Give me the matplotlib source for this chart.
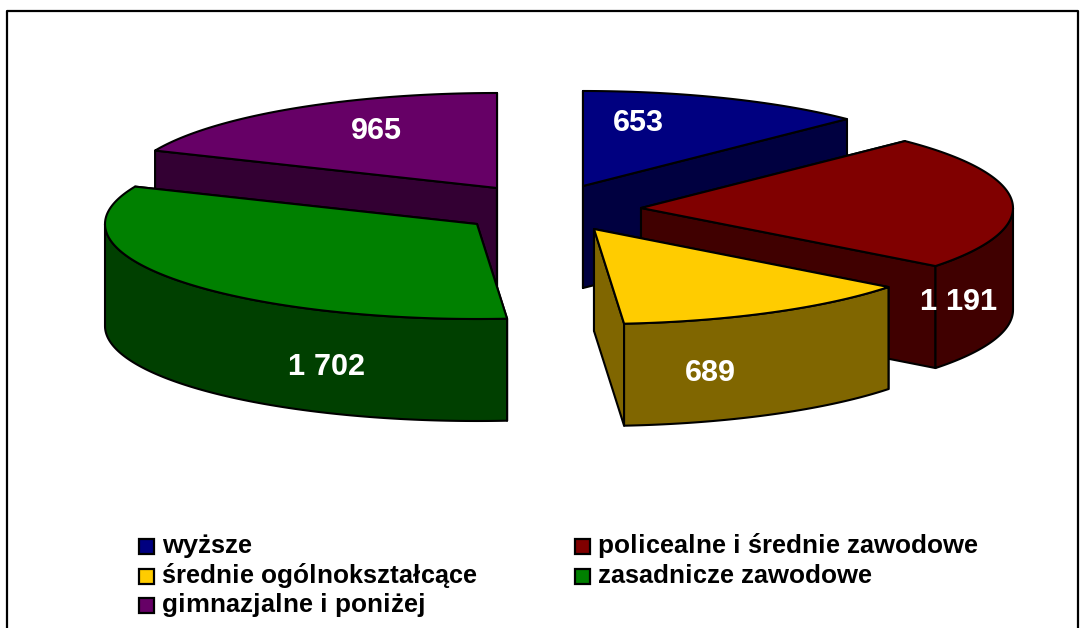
import numpy as np
import matplotlib
matplotlib.use("Agg")
import matplotlib.pyplot as plt
from matplotlib.patches import Polygon, Rectangle

plt.rcParams['font.family'] = ['Liberation Sans', 'DejaVu Sans']
plt.rcParams['text.hinting'] = 'native'
plt.rcParams['text.hinting_factor'] = 1

categories = ["wyższe", "policealne i średnie zawodowe", "średnie ogólnokształcące",
              "zasadnicze zawodowe", "gimnazjalne i poniżej"]
values = [653, 1191, 689, 1702, 965]
value_labels = ["653", "1 191", "689", "1 702", "965"]
top_colors = ["#000080", "#800000", "#FFCC00", "#008000", "#660066"]
side_colors = ["#000040", "#400000", "#806600", "#004000", "#330033"]

# layout, in pixels
center = (541, 208)
explode_x = [42, 100, 53, -64, -44]
explode_y = [-22, 0, 21, 16, -20]
rx, ry = 372, 95
depth = 102
label_x = [638, 958, 710, 326, 376]
label_base = [131, 310, 381, 375, 139]
legend_x = [139, 575, 139, 575, 139]
legend_y = [546, 546, 576, 576, 605]

fig = plt.figure(figsize=(10.85, 6.28), dpi=100)
ax = fig.add_axes([0, 0, 1, 1])
ax.set_xlim(0, 1085)
ax.set_ylim(628, 0)
ax.axis('off')


def arc(cx, cy, t0, t1):
    t = np.radians(np.linspace(t0, t1, 120))
    return np.column_stack([cx + rx * np.sin(t), cy - ry * np.cos(t)])


angles = np.cumsum([0] + values) / sum(values) * 360
# back slices first, so the front ones cover them
for i in [0, 4, 1, 3, 2]:
    cx = center[0] + explode_x[i]
    cy = center[1] + explode_y[i]
    t0, t1 = angles[i], angles[i + 1]
    rim = arc(cx, cy, t0, t1)
    kw = dict(edgecolor='black', linewidth=1.5, joinstyle='round')
    # flat cuts of the slice
    for end in (rim[0], rim[-1]):
        wall = [(cx, cy), end, (end[0], end[1] + depth), (cx, cy + depth)]
        ax.add_patch(Polygon(wall, facecolor=side_colors[i], **kw))
    # outer wall, only the part turned to the viewer
    a, b = max(t0, 90), min(t1, 270)
    if a < b:
        front = arc(cx, cy, a, b)
        low = front[::-1] + [0, depth]
        ax.add_patch(Polygon(np.vstack([front, low]), facecolor=side_colors[i], **kw))
    ax.add_patch(Polygon(np.vstack([[(cx, cy)], rim]), facecolor=top_colors[i], **kw))

for i in range(len(values)):
    ax.text(label_x[i], label_base[i], value_labels[i], color='white', fontsize=22.5,
            fontweight='bold', ha='center', va='baseline')
    ax.add_patch(Rectangle((legend_x[i], legend_y[i] - 7.5), 15, 15, facecolor=top_colors[i],
                           edgecolor='black', linewidth=1.6))
    ax.text(legend_x[i] + 23, legend_y[i] + 7, categories[i], color='black', fontsize=19,
            fontweight='bold', ha='left', va='baseline')

# chart frame, its bottom edge is cut off in the picture
ax.plot([7, 7, 1078, 1078], [628, 11, 11, 628], color='black', linewidth=1.6)

fig.savefig("out.png", dpi=100)
